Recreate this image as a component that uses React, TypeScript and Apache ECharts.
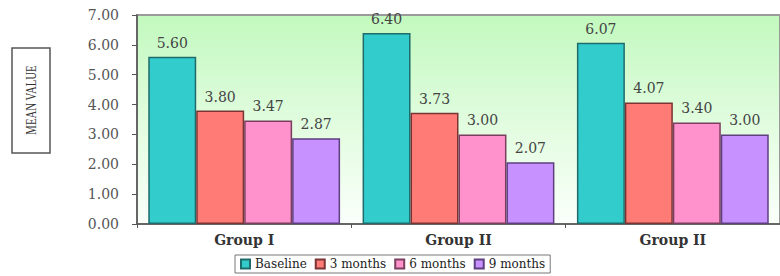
import React, { useEffect, useRef } from "react";
import * as echarts from "echarts";

const categories = ["Group I", "Group II", "Group II"];
const seriesNames = ["Baseline", "3 months", "6 months", "9 months"];
const baseline = [5.6, 6.4, 6.07];
const months3 = [3.8, 3.73, 4.07];
const months6 = [3.47, 3.0, 3.4];
const months9 = [2.87, 2.07, 3.0];
const yTicks = [0, 1, 2, 3, 4, 5, 6, 7];

const fills = ["#33CCCC", "#FF7B76", "#FF92CC", "#C792FF"];
const borders = ["#1F6B6B", "#7A3434", "#7A3F5F", "#5F3F80"];
const SERIF = "DejaVu Serif";

export default function App() {
  const ref = useRef<HTMLDivElement>(null);
  useEffect(() => {
    if (!ref.current) return;
    const chart = echarts.init(ref.current, null, { renderer: "svg" });
    const values = [baseline, months3, months6, months9];
    chart.setOption({
      animation: false,
      backgroundColor: "#ffffff",
      textStyle: { fontFamily: SERIF },
      grid: {
        left: 137,
        right: -14,
        top: 15,
        bottom: 52,
        show: true,
        borderColor: "#9a9a9a",
        borderWidth: 2,
        backgroundColor: new echarts.graphic.LinearGradient(0, 0, 0, 1, [
          { offset: 0, color: "#C2F9BE" },
          { offset: 0.6, color: "#E6FDE4" },
          { offset: 1, color: "#FAFFFA" },
        ]),
      },
      legend: {
        data: seriesNames,
        left: 235,
        top: 255,
        padding: [3, 5, 3, 5],
        itemWidth: 9,
        itemHeight: 9,
        itemGap: 8,
        borderColor: "#777",
        borderWidth: 1,
        backgroundColor: "#fff",
        icon: "rect",
        formatter: "{s|{name}}",
        textStyle: {
          fontFamily: SERIF,
          fontSize: 12,
          color: "#222",
          rich: { s: { fontFamily: SERIF, fontSize: 12, color: "#222" } },
        },
      },
      xAxis: {
        type: "category",
        data: categories,
        axisLine: { lineStyle: { color: "#555", width: 1.5 } },
        axisTick: { show: true, length: 4, lineStyle: { color: "#555" } },
        axisLabel: {
          fontFamily: SERIF,
          fontSize: 14,
          fontWeight: "bold",
          color: "#333",
          margin: 9,
        },
      },
      yAxis: {
        type: "value",
        min: yTicks[0],
        max: yTicks[yTicks.length - 1],
        interval: 1,
        axisLine: { show: true, lineStyle: { color: "#555", width: 1.5 } },
        axisTick: { show: true, length: 5, lineStyle: { color: "#555" } },
        splitLine: { show: false },
        axisLabel: {
          fontFamily: SERIF,
          fontSize: 14,
          color: "#555",
          margin: 18,
          formatter: (v: number) => v.toFixed(2),
        },
      },
      series: seriesNames.map((name, i) => ({
        name,
        type: "bar",
        data: values[i],
        barGap: "0%",
        barCategoryGap: "10.5%",
        itemStyle: { color: fills[i], borderColor: borders[i], borderWidth: 1.5 },
        label: {
          show: true,
          position: "top",
          distance: 7,
          fontFamily: SERIF,
          fontSize: 14,
          color: "#444",
          formatter: (p: any) => Number(p.value).toFixed(2),
        },
      })),
      graphic: [
        {
          type: "rect",
          shape: { x: 12, y: 48, width: 38, height: 105 },
          style: { fill: "#fff", stroke: "#555", lineWidth: 1.5 },
        },
        {
          type: "text",
          x: 31,
          y: 100,
          rotation: Math.PI / 2,
          scaleX: 0.72,
          style: {
            text: "MEAN VALUE",
            fontFamily: "Liberation Serif",
            fontSize: 15,
            fill: "#333",
            align: "center",
            verticalAlign: "middle",
          },
        },
      ],
    });
    return () => chart.dispose();
  }, []);
  return (
    <div
      ref={ref}
      style={{ position: "fixed", left: 0, top: 0, width: 780, height: 276 }}
    />
  );
}
